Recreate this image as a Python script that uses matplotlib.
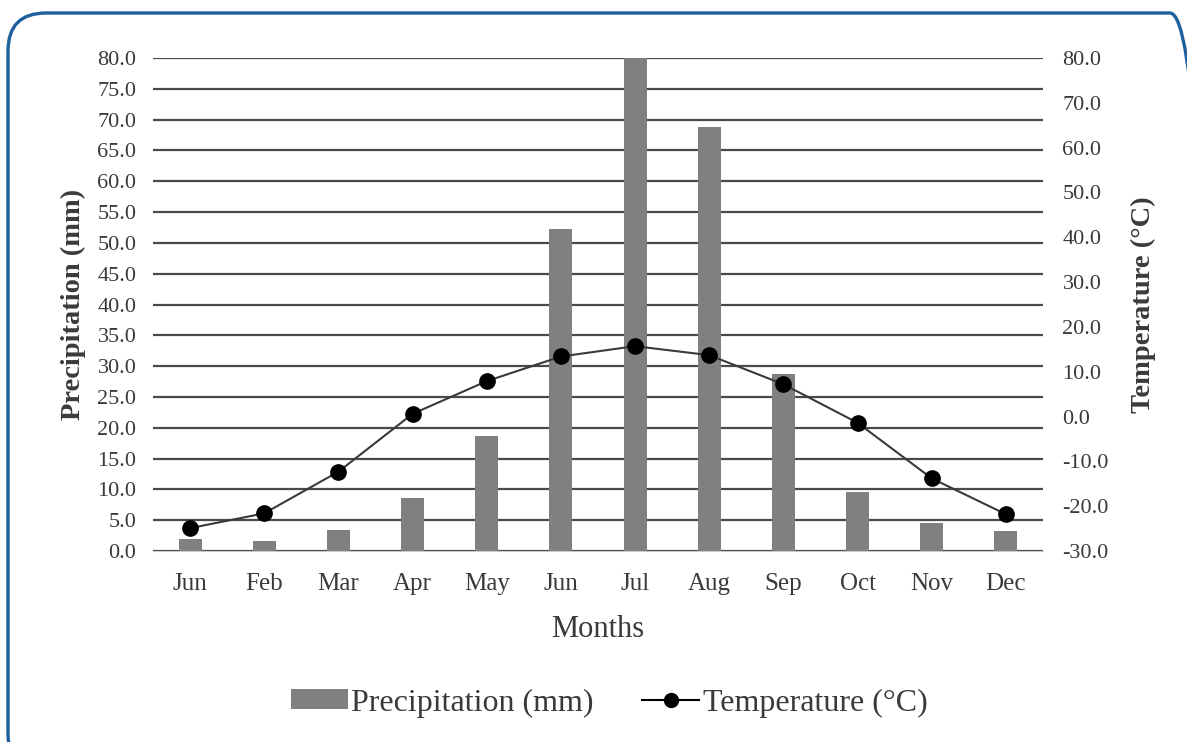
import matplotlib.pyplot as plt
from matplotlib.patches import FancyBboxPatch
from matplotlib.transforms import IdentityTransform
from matplotlib.lines import Line2D
from matplotlib.patches import Patch
import numpy as np

# données
mois = ["Jun", "Feb", "Mar", "Apr", "May", "Jun", "Jul", "Aug", "Sep", "Oct", "Nov", "Dec"]
precipitation = [2.0, 1.6, 3.4, 8.6, 18.7, 52.2, 80.0, 68.8, 28.7, 9.6, 4.5, 3.2]
temperature = [-24.9, -21.6, -12.3, 0.6, 7.9, 13.4, 15.7, 13.7, 7.2, -1.4, -13.8, -21.8]

plt.rcParams['font.family'] = ['Liberation Serif', 'DejaVu Serif']
gris_texte = "#3a3a3a"
gris_barre = "#808080"

fig = plt.figure(figsize=(11.87, 7.42), dpi=100)
W, H = 1187, 742

# cadre arrondi bleu (en pixels)
cadre = FancyBboxPatch((8, -30), 1200, H - 13 + 30,
                       boxstyle="round,pad=0,rounding_size=38",
                       transform=IdentityTransform(), fill=False,
                       edgecolor="#1f5f9e", linewidth=2.4)
fig.patches.append(cadre)

ax1 = fig.add_axes([153 / W, 1 - 551 / H, (1043 - 153) / W, (551 - 58) / H])
ax2 = ax1.twinx()

x = np.arange(len(mois))
ax1.bar(x, precipitation, width=0.31, color=gris_barre, zorder=3)
ax1.set_ylim(0, 80)
ax1.set_yticks(np.arange(0, 81, 5))
ax1.set_yticklabels([f"{v:.1f}" for v in np.arange(0, 81, 5)])
ax1.set_xlim(-0.5, len(mois) - 0.5)
ax1.set_xticks(x)
ax1.set_xticklabels(mois)
ax1.grid(axis='y', color="#4a4a4a", linewidth=1.6, zorder=0)
ax1.set_axisbelow(True)

ax2.plot(x, temperature, color="#3a3a3a", linewidth=1.5, marker='o',
         markersize=11, markerfacecolor="black", markeredgecolor="black", zorder=5)
ax2.set_ylim(-30, 80)
ax2.set_yticks(np.arange(-30, 81, 10))
ax2.set_yticklabels([f"{v:.1f}" for v in np.arange(-30, 81, 10)])

for a in (ax1, ax2):
    for s in a.spines.values():
        s.set_visible(False)
    a.tick_params(length=0, labelsize=16, colors=gris_texte)
ax1.spines['bottom'].set_visible(True)
ax1.spines['bottom'].set_color("#c8c8c8")
ax1.tick_params(axis='y', pad=12)
ax2.tick_params(axis='y', pad=14)
ax1.tick_params(axis='x', pad=16, labelsize=18)

ax1.set_ylabel("Precipitation (mm)", fontsize=20.5, fontweight='bold', color=gris_texte, labelpad=8)
ax2.set_ylabel("Temperature (°C)", fontsize=20.5, fontweight='bold', color=gris_texte,
               rotation=90, labelpad=16)
ax1.set_xlabel("Months", fontsize=22, color=gris_texte, labelpad=14)

poignees = [Patch(facecolor=gris_barre, edgecolor='none'),
            Line2D([0], [0], color="black", marker='o', markersize=10, linewidth=1.5)]
fig.legend(poignees, ["Precipitation (mm)", "Temperature (°C)"], loc='center',
           bbox_to_anchor=(609 / W, 1 - 703 / H), ncol=2, frameon=False,
           fontsize=23, labelcolor=gris_texte, handlelength=1.8, handleheight=0.6,
           columnspacing=1.5, handletextpad=0.1)

fig.savefig("out.png", dpi=100)
